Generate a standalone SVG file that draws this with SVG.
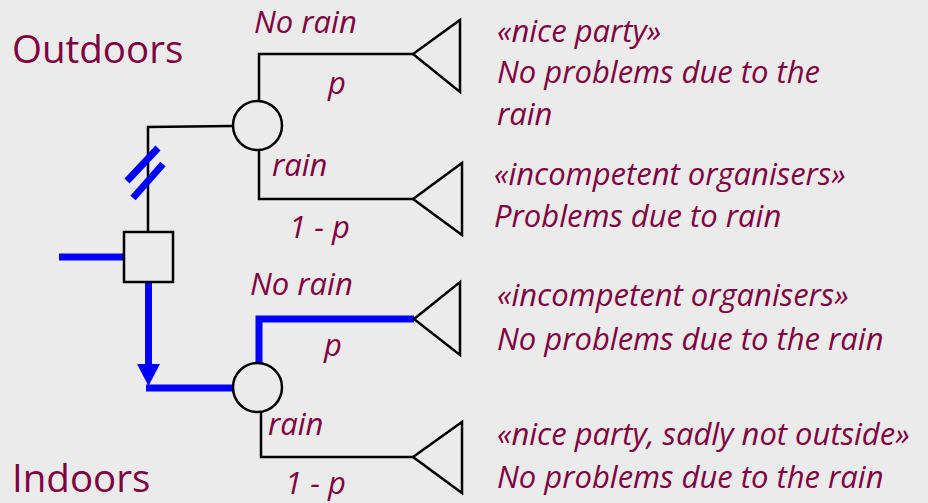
<svg xmlns="http://www.w3.org/2000/svg" width="928" height="503" viewBox="0 0 928 503">
  <defs>
    <style>
      .lbl { font-family: "Open Sans", "Liberation Sans", sans-serif; fill: #7f0041; }
      .big { font-size: 38.5px; }
      .it { font-size: 31px; font-style: italic; }
      .edge { fill: none; stroke: #000; stroke-width: 2.5; }
      .sel { fill: none; stroke: #0000ff; stroke-width: 7; }
      .shape { fill: none; stroke: #000; stroke-width: 2.5; }
    </style>
  </defs>

  <rect width="928" height="503" fill="#ebebeb"/>

  <!-- connectors -->
  <g id="connectors">
    <!-- decision: outdoors branch (cut) -->
    <polyline class="edge" points="148,232 148,127 232,126"/>
    <line class="sel" x1="127" y1="181" x2="158" y2="148"/>
    <line class="sel" x1="133" y1="198" x2="163" y2="164"/>
    <!-- decision: indoors branch (chosen) -->
    <line class="sel" x1="59" y1="257" x2="124" y2="257"/>
    <polyline class="sel" points="148.5,282 148.5,370"/>
    <path d="M137 364 L160 364 L148.5 386 Z" fill="#0000ff"/>
    <polyline class="sel" points="146,388 233,388"/>
    <!-- outdoors chance outcomes -->
    <polyline class="edge" points="259,101 259,54 413,54"/>
    <polyline class="edge" points="259,150 259,199 413,199"/>
    <!-- indoors chance outcomes -->
    <polyline class="sel" points="259,363 259,319 414,319"/>
    <polyline class="edge" points="261,411 261,457 413,457"/>
  </g>

  <!-- decision node -->
  <g id="decision">
    <rect class="shape" x="124" y="232" width="49" height="50" fill="#ebebeb"/>
  </g>

  <!-- chance nodes -->
  <g id="chance-outdoors">
    <circle class="shape" cx="257.5" cy="125.5" r="24.5"/>
  </g>
  <g id="chance-indoors">
    <circle class="shape" cx="257.5" cy="387.5" r="24.5"/>
  </g>

  <!-- end nodes -->
  <g id="end-1"><polygon class="shape" points="413,54 460,20 460,92"/></g>
  <g id="end-2"><polygon class="shape" points="413,199 462,163 462,235"/></g>
  <g id="end-3"><polygon class="shape" points="414,319 460,282 460,355"/></g>
  <g id="end-4"><polygon class="shape" points="413,457 462,422 462,493"/></g>

  <!-- option labels -->
  <g id="labels-options">
    <text class="lbl big" x="12" y="63">Outdoors</text>
    <text class="lbl big" x="12" y="492">Indoors</text>
  </g>

  <!-- branch labels -->
  <g id="labels-branches">
    <text class="lbl it" x="254" y="33">No rain</text>
    <text class="lbl it" x="328" y="94">p</text>
    <text class="lbl it" x="272" y="176">rain</text>
    <text class="lbl it" x="289" y="238">1 - p</text>
    <text class="lbl it" x="250" y="295">No rain</text>
    <text class="lbl it" x="324" y="356">p</text>
    <text class="lbl it" x="268" y="435">rain</text>
    <text class="lbl it" x="285" y="494">1 - p</text>
  </g>

  <!-- outcome texts -->
  <g id="labels-outcomes">
    <text class="lbl it" x="497" y="42">«nice party»</text>
    <text class="lbl it" x="497" y="83">No problems due to the</text>
    <text class="lbl it" x="497" y="125">rain</text>
    <text class="lbl it" x="494" y="185">«incompetent organisers»</text>
    <text class="lbl it" x="494" y="227">Problems due to rain</text>
    <text class="lbl it" x="497" y="306">«incompetent organisers»</text>
    <text class="lbl it" x="497" y="350">No problems due to the rain</text>
    <text class="lbl it" x="497" y="445">«nice party, sadly not outside»</text>
    <text class="lbl it" x="497" y="488">No problems due to the rain</text>
  </g>
</svg>
